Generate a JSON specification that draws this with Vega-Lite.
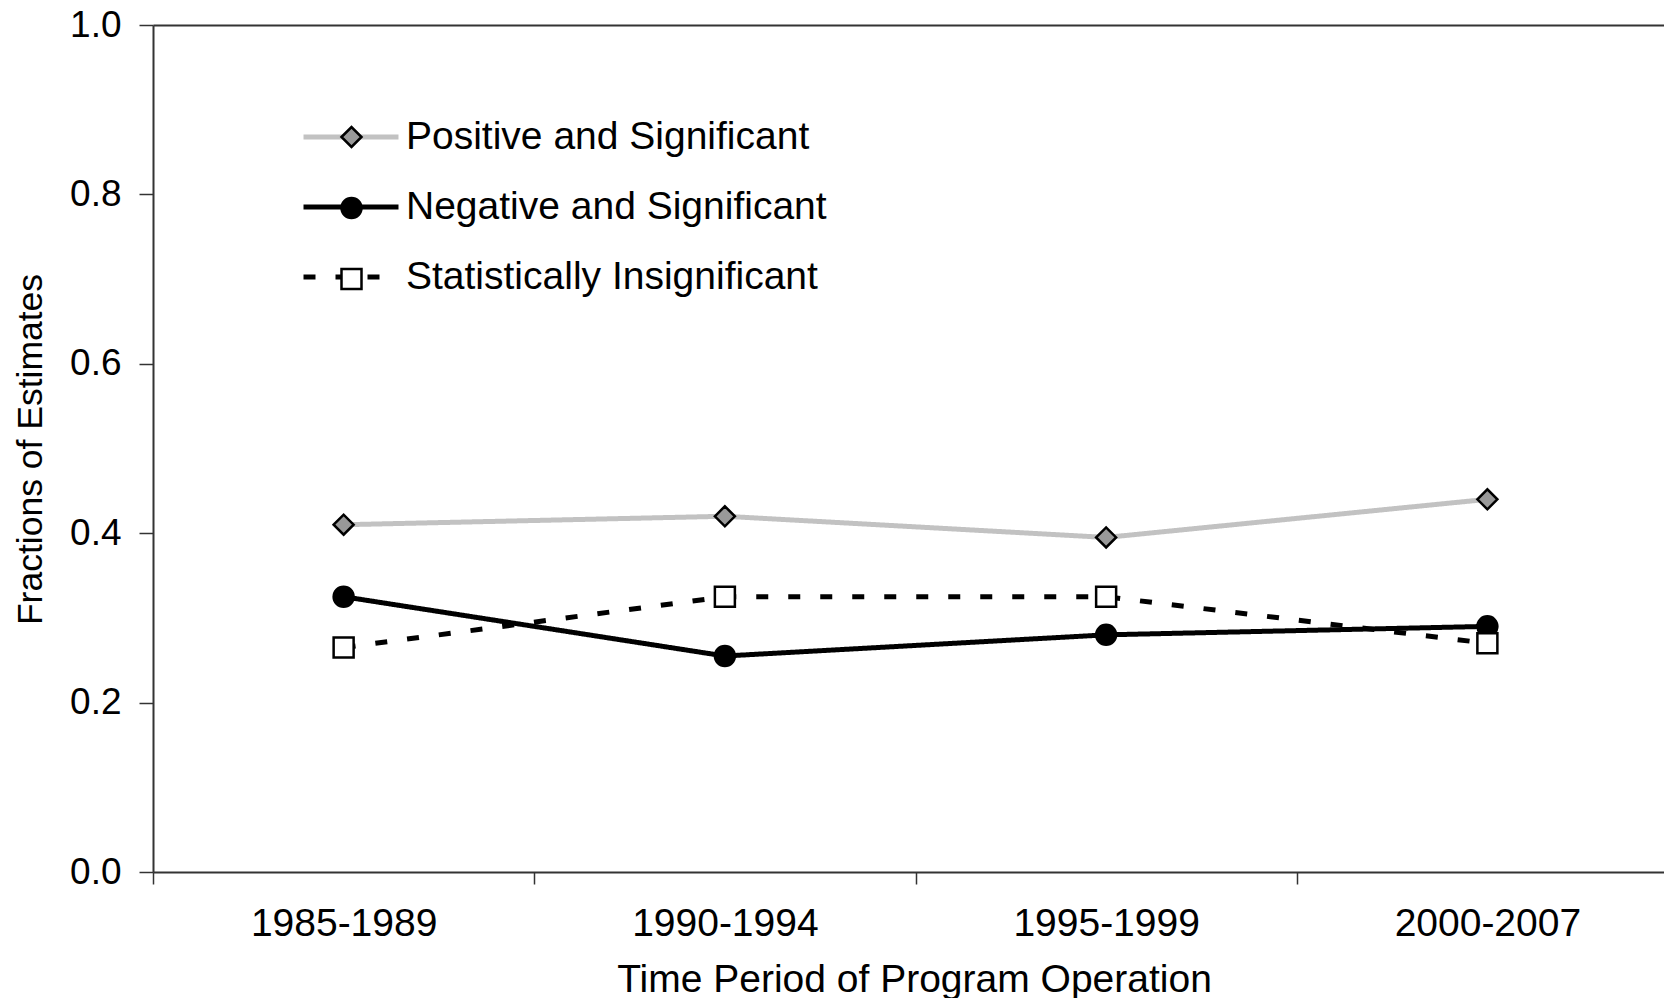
{
  "$schema": "https://vega.github.io/schema/vega-lite/v6.json",
  "width": 1511,
  "height": 847,
  "autosize": "none",
  "padding": {"left": 153, "top": 25, "right": 0, "bottom": 126},
  "background": "white",
  "config": {
    "view": {"stroke": null},
    "font": "Liberation Sans",
    "axis": {
      "grid": false,
      "domainColor": "#333333",
      "domainWidth": 2,
      "tickColor": "#333333",
      "tickWidth": 1.5,
      "labelColor": "black",
      "titleColor": "black",
      "labelFont": "Liberation Sans",
      "titleFont": "Liberation Sans",
      "titleFontWeight": "normal"
    },
    "legend": {"labelFont": "Liberation Sans", "labelColor": "black"}
  },
  "data": {
    "values": [
      {"series": "Positive and Significant", "marker": "Positive and Significant", "order": 1, "period": "1985-1989", "value": 0.41},
      {"series": "Positive and Significant", "marker": "Positive and Significant", "order": 1, "period": "1990-1994", "value": 0.42},
      {"series": "Positive and Significant", "marker": "Positive and Significant", "order": 1, "period": "1995-1999", "value": 0.395},
      {"series": "Positive and Significant", "marker": "Positive and Significant", "order": 1, "period": "2000-2007", "value": 0.44},
      {"series": "Negative and Significant", "marker": "Negative and Significant", "order": 2, "period": "1985-1989", "value": 0.325},
      {"series": "Negative and Significant", "marker": "Negative and Significant", "order": 2, "period": "1990-1994", "value": 0.255},
      {"series": "Negative and Significant", "marker": "Negative and Significant", "order": 2, "period": "1995-1999", "value": 0.28},
      {"series": "Negative and Significant", "marker": "Negative and Significant", "order": 2, "period": "2000-2007", "value": 0.29},
      {"series": "Statistically Insignificant", "marker": "Statistically Insignificant", "order": 3, "period": "1985-1989", "value": 0.265},
      {"series": "Statistically Insignificant", "marker": "Statistically Insignificant", "order": 3, "period": "1990-1994", "value": 0.325},
      {"series": "Statistically Insignificant", "marker": "Statistically Insignificant", "order": 3, "period": "1995-1999", "value": 0.325},
      {"series": "Statistically Insignificant", "marker": "Statistically Insignificant", "order": 3, "period": "2000-2007", "value": 0.27}
    ]
  },
  "layer": [
    {
      "mark": {"type": "line", "strokeWidth": 5},
      "encoding": {
        "x": {
          "field": "period",
          "type": "nominal",
          "sort": ["1985-1989", "1990-1994", "1995-1999", "2000-2007"],
          "scale": {"type": "band", "range": [0, 1525], "paddingInner": 0, "paddingOuter": 0},
          "axis": {
            "orient": "bottom",
            "tickBand": "extent",
            "tickSize": 12,
            "labelAngle": 0,
            "labelFontSize": 39,
            "labelLimit": 500,
            "labelBaseline": "alphabetic",
            "labelPadding": 51,
            "title": "Time Period of Program Operation",
            "titleFontSize": 39,
            "titleBaseline": "alphabetic",
            "titleAlign": "center",
            "titleX": 761,
            "titleY": 119
          }
        },
        "y": {
          "field": "value",
          "type": "quantitative",
          "scale": {"domain": [0, 1], "nice": false},
          "axis": {
            "values": [0, 0.2, 0.4, 0.6, 0.8, 1.0],
            "format": ".1f",
            "tickSize": 14,
            "labelFontSize": 37,
            "labelPadding": 18,
            "title": "Fractions of Estimates",
            "titleFontSize": 35.5,
            "titleAngle": 270,
            "titleBaseline": "alphabetic",
            "titleAlign": "center",
            "titleX": -112,
            "titleY": 424
          }
        },
        "stroke": {
          "field": "series",
          "type": "nominal",
          "scale": {
            "domain": ["Positive and Significant", "Negative and Significant", "Statistically Insignificant"],
            "range": ["#c2c2c2", "#000000", "#000000"]
          },
          "legend": {
            "title": null, "orient": "none", "legendX": 148, "legendY": 90,
            "symbolType": "stroke", "symbolSize": 9025, "symbolStrokeWidth": 5,
            "clipHeight": 44, "rowPadding": 26, "labelFontSize": 39, "labelOffset": 5,
            "padding": 0, "labelLimit": 1000
          }
        },
        "strokeDash": {
          "field": "series",
          "type": "nominal",
          "scale": {
            "domain": ["Positive and Significant", "Negative and Significant", "Statistically Insignificant"],
            "range": [[1, 0], [1, 0], [12, 20]]
          },
          "legend": {
            "title": null, "orient": "none", "legendX": 148, "legendY": 90,
            "symbolType": "stroke", "symbolSize": 9025, "symbolStrokeWidth": 5,
            "clipHeight": 44, "rowPadding": 26, "labelFontSize": 39, "labelOffset": 5,
            "padding": 0, "labelLimit": 1000
          }
        }
      }
    },
    {
      "mark": {"type": "point", "filled": true, "stroke": "black", "strokeWidth": 2.5, "size": 400, "opacity": 1},
      "encoding": {
        "x": {
          "field": "period",
          "type": "nominal",
          "sort": ["1985-1989", "1990-1994", "1995-1999", "2000-2007"],
          "axis": {"orient": "top", "domain": true, "ticks": false, "labels": false, "title": null}
        },
        "y": {"field": "value", "type": "quantitative"},
        "shape": {
          "field": "marker",
          "type": "nominal",
          "sort": {"field": "order", "op": "min"},
          "scale": {"range": ["diamond", "circle", "square"]},
          "legend": {
            "title": null, "orient": "none", "legendX": 179, "legendY": 92.5,
            "symbolSize": 400, "symbolStrokeWidth": 2.5,
            "rowPadding": 31, "labelFontSize": 39, "labelOffset": 5,
            "labelExpr": "''", "padding": 0, "labelLimit": 1000,
            "encode": {"symbols": {"stroke": {"value": "black"}, "strokeWidth": {"value": 2.5}}}
          }
        },
        "fill": {
          "field": "marker",
          "type": "nominal",
          "sort": {"field": "order", "op": "min"},
          "scale": {"range": ["#999999", "#000000", "#ffffff"]},
          "legend": {
            "title": null, "orient": "none", "legendX": 179, "legendY": 92.5,
            "symbolSize": 400, "symbolStrokeWidth": 2.5,
            "rowPadding": 31, "labelFontSize": 39, "labelOffset": 5,
            "labelExpr": "''", "padding": 0, "labelLimit": 1000,
            "encode": {"symbols": {"stroke": {"value": "black"}, "strokeWidth": {"value": 2.5}}}
          }
        }
      }
    }
  ],
  "resolve": {"axis": {"x": "independent"}}
}
